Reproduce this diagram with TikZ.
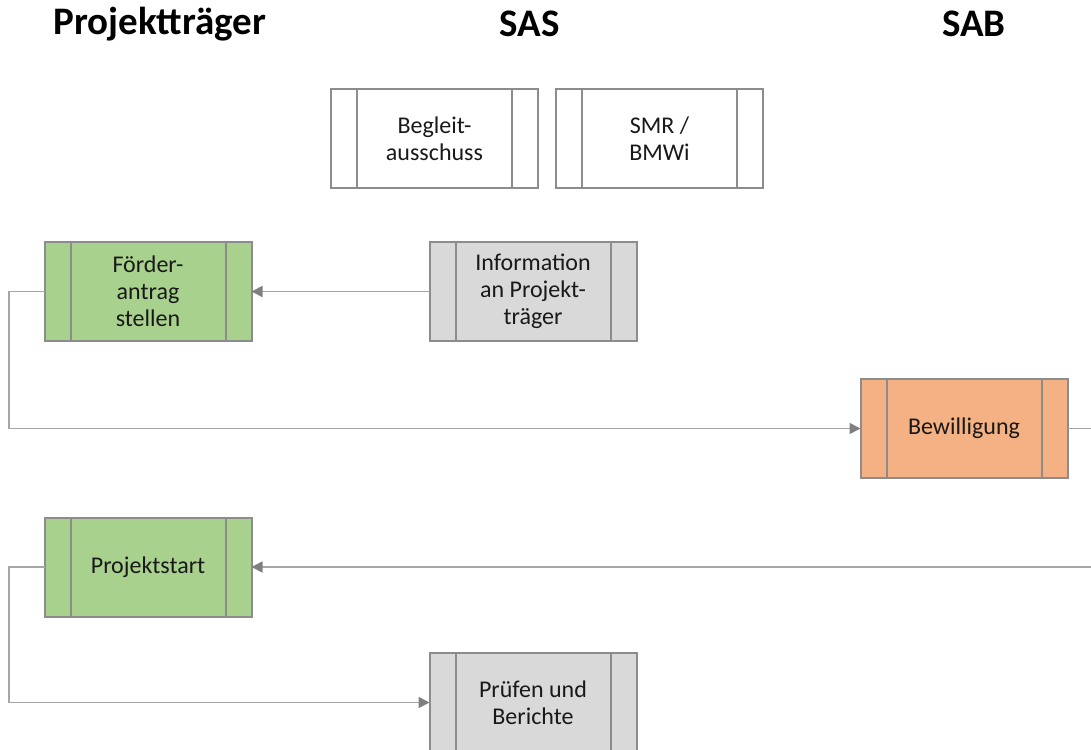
\documentclass[tikz,border=0pt]{standalone}
\usepackage{fontspec}
\setmainfont{Carlito}
\usetikzlibrary{arrows.meta}
\definecolor{boxline}{HTML}{8C8C8C}
\definecolor{conline}{HTML}{A6A6A6}
\definecolor{tipcol}{HTML}{7F7F7F}
\definecolor{greenfill}{HTML}{A9D18E}
\definecolor{orangefill}{HTML}{F4B183}
\definecolor{grayfill}{HTML}{D9D9D9}
\tikzset{
  procbox/.style={draw=boxline, line width=2pt, rectangle,
    minimum width=207pt, minimum height=99pt, inner sep=0pt, outer sep=0pt,
    align=center, font=\fontsize{24pt}{27pt}\selectfont, text=black!90,
    path picture={
      \draw[boxline, line width=2pt]
        ([xshift=26pt]path picture bounding box.north west) --
        ([xshift=26pt]path picture bounding box.south west);
      \draw[boxline, line width=2pt]
        ([xshift=-26pt]path picture bounding box.north east) --
        ([xshift=-26pt]path picture bounding box.south east);
    }},
  title/.style={font=\fontsize{39pt}{44pt}\selectfont\bfseries, text=black, inner sep=0pt},
  conn/.style={draw=conline, line width=1.7pt},
  arr/.style={conn, -{Triangle[length=11pt,width=11pt,color=tipcol]}}
}
\begin{document}
\begin{tikzpicture}[x=1pt,y=-1pt]
\useasboundingbox (0,0) rectangle (1091,749);
% titles
\node[title] (t1) at (160,24) {Projektträger};
\node[title] (t2) at (530,24) {SAS};
\node[title] (t3) at (974,24) {SAB};
% boxes
\node[procbox, fill=white] (beg) at (434.5,138.5) {\rule{0pt}{0pt}Begleit-\\ausschuss};
\node[procbox, fill=white] (smr) at (659.5,138.5) {SMR /\\BMWi};
\node[procbox, fill=greenfill] (foe) at (148,291.5) {Förder-\\antrag\\stellen};
\node[procbox, fill=grayfill] (inf) at (533,291.5) {Information\\an Projekt-\\träger};
\node[procbox, fill=orangefill] (bew) at (964,428.5) {\raisebox{-3pt}{Bewilligung}};
\node[procbox, fill=greenfill] (pst) at (148,567) {\raisebox{-3pt}{Projektstart}};
\node[procbox, fill=grayfill] (pru) at (533,702.5) {Prüfen und\\Berichte};
% free ends
\coordinate (r1) at (1091,428.5);
\coordinate (r2) at (1091,567);
% connectors
\draw[arr] (inf.west) -- (foe.east);
\draw[arr] (foe.west) -- (9,291.5) -- (9,428.5) -- (bew.west);
\draw[conn] (bew.east) -- (r1);
\draw[arr] (r2) -- (pst.east);
\draw[arr] (pst.west) -- (9,567) -- (9,702.5) -- (pru.west);
\end{tikzpicture}
\end{document}
